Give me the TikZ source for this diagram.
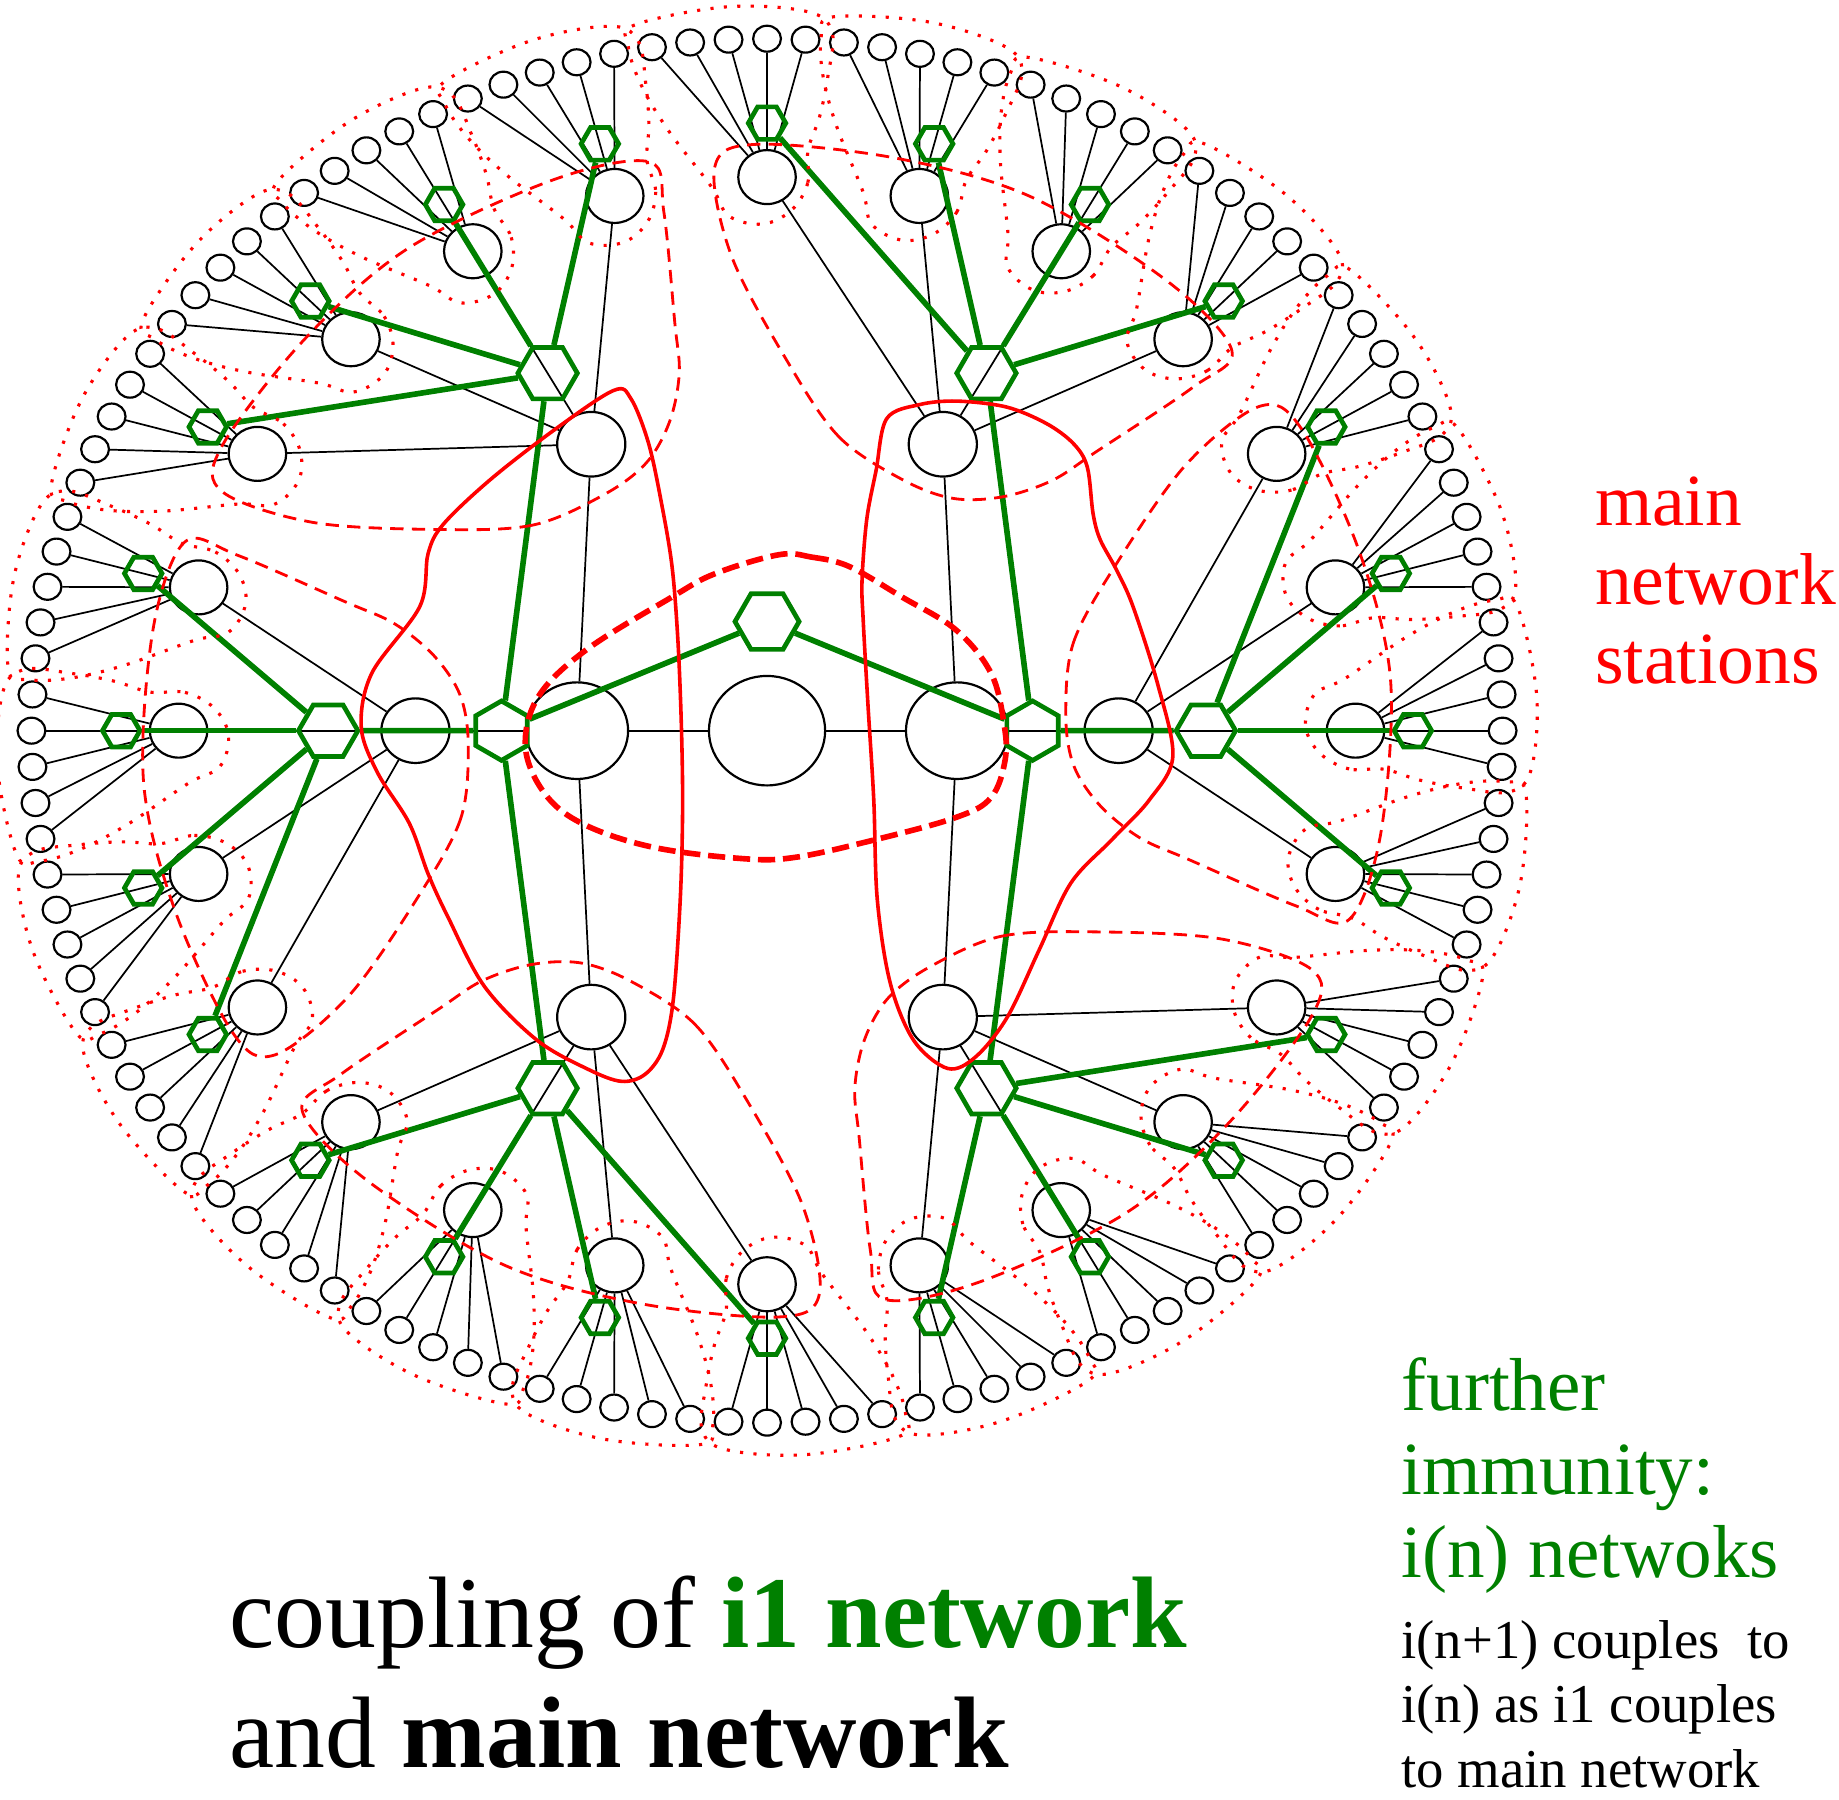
\documentclass[tikz,border=0pt]{standalone}
\usepackage{fontspec}
\setmainfont{Liberation Serif}
\usetikzlibrary{shapes.geometric}
\definecolor{inetgreen}{RGB}{0,128,0}

\tikzset{every picture/.style={line width=0.75pt}}
\tikzset{
  stn/.style={draw, ellipse, fill=white, line width=1.4pt, inner sep=0pt},
  leafstn/.style={stn, minimum width=17.8pt, minimum height=16.6pt},
  substn/.style={stn, minimum width=36.8pt, minimum height=34.5pt},
  hubstn/.style={stn, minimum width=43.6pt, minimum height=41.3pt},
  topstn/.style={stn, minimum width=65.3pt, minimum height=61.8pt},
  censtn/.style={stn, minimum width=74.3pt, minimum height=70pt},
  link/.style={line width=1.1pt},
  ihex/.style={draw=inetgreen, regular polygon, regular polygon sides=6, line width=3pt, inner sep=0pt},
  ihexroot/.style={ihex, minimum size=41pt},
  ihexbig/.style={ihex, minimum size=38pt},
  ihexsmall/.style={ihex, minimum size=24pt},
  ilink/.style={draw=inetgreen, line width=3.6pt},
  petal/.style={draw=red, line width=2pt, dash pattern={on 2pt off 6.6pt}},
  grpline/.style={draw=red, line width=1.8pt, dash pattern={on 8.5pt off 5.3pt}},
  sideline/.style={draw=red, line width=2.3pt},
  coreline/.style={draw=red, line width=3.6pt, dash pattern={on 11pt off 5pt}}
}

\begin{document}
\begin{tikzpicture}[x=0.75pt,y=0.75pt,yscale=-1,xscale=1]
\useasboundingbox (0,0) rectangle (1568,1534);

\begin{scope}[shift={(654,623)},xscale=1.063,yscale=-1]
%Shape: Ellipse - main network stations
\node[censtn] (cen) at (0,0) {};
\node[topstn] (stL) at (180:152.4) {};
\node[topstn] (stR) at (0:152.4) {};
\foreach \k in {0,...,5}
  \node[hubstn] (hub\k) at (\k*60:282) {};
\foreach \j in {0,...,23}
  \node[substn] (sub\j) at (\j*15:472) {};
\foreach \i in {0,...,119}
  \node[leafstn] (lf\i) at (\i*3:590) {};

%Straight Lines - main network
\draw[link] (stL) -- (cen);
\draw[link] (cen) -- (stR);
\foreach \k in {2,3,4}
  \draw[link] (stL) -- (hub\k);
\foreach \k in {0,1,5}
  \draw[link] (stR) -- (hub\k);
\foreach \j [evaluate={\j as \k using int(mod(floor((\j+1)/4),6))}] in {0,...,23}
  \draw[link] (hub\k) -- (sub\j);
\foreach \i [evaluate={\i as \j using int(mod(floor((\i+1)/5),24))}] in {0,...,119}
  \draw[link] (sub\j) -- (lf\i);

%Shape: Hexagon - i1 network
\node[ihexroot] (iroot) at (90:93) {};
\node[ihexbig, rotate=30] (igL) at (180:213) {};
\node[ihexbig, rotate=30] (igR) at (0:213) {};
\foreach \k in {0,...,5}
  \node[ihexbig] (ihub\k) at (\k*60:352) {};
\foreach \j in {0,...,23}
  \node[ihexsmall] (isub\j) at (\j*15:518) {};

%Straight Lines - i1 network
\draw[ilink] (iroot) -- (igL);
\draw[ilink] (iroot) -- (igR);
\foreach \k in {2,3,4}
  \draw[ilink] (igL) -- (ihub\k);
\foreach \k in {0,1,5}
  \draw[ilink] (igR) -- (ihub\k);
\foreach \j [evaluate={\j as \k using int(mod(floor((\j+1)/4),6))}] in {0,...,23}
  \draw[ilink] (ihub\k) -- (isub\j);

%Curve Lines - dotted groups
\foreach \t in {0,15,...,345}
  \draw[petal] plot[smooth cycle, tension=0.6] coordinates {(\t-3.8:496) (\t-4:468) (\t-2.5:444) (\t+0.5:432) (\t+4:440) (\t+5.5:466) (\t+8.8:518) (\t+10.4:560) (\t+10.8:594) (\t+10:611) (\t+3:618) (\t-3:614) (\t-5:598) (\t-5:560) (\t-4.6:525)};

%Curve Lines - dashed groups
\foreach \a in {0,60,...,300}
  \draw[grpline] plot[smooth cycle, tension=0.55] coordinates {(\a+3:240) (\a+17:257) (\a+27:315) (\a+34:405) (\a+35:482) (\a+31:500) (\a+18:499) (\a+5:502) (\a-10:500) (\a-19:494) (\a-19.4:450) (\a-18:356) (\a-17:313) (\a-13.5:275) (\a-7:248)};
\end{scope}

%Curve Lines - left side
\draw[sideline] plot[smooth cycle, tension=0.55] coordinates {(523,333) (538,340) (553,378) (564,429) (573,483) (578,546) (581,620) (582,690) (580,767) (574,853) (565,895) (550,916) (530,922) (502,912) (458,887) (413,841) (382,782) (365,745) (349,702) (322,659) (308,620) (317,574) (358,517) (365,472) (378,447) (418,409) (472,367)};
%Curve Lines - right side
\draw[sideline] plot[smooth cycle, tension=0.55] coordinates {(756,357) (784,345) (816,342) (858,347) (892,361) (915,378) (927,398) (932,438) (938,460) (952,486) (966,517) (987,583) (1000,645) (980,682) (948,716) (913,753) (886,810) (859,867) (832,901) (808,911) (779,887) (759,838) (748,767) (745,682) (740,600) (736,529) (735,495) (739,443) (747,401)};
%Curve Lines - core
\draw[coreline] plot[smooth cycle, tension=0.6] coordinates {(664,473) (692,475) (724,483) (769,509) (815,537) (845,574) (856,617) (857,648) (845,680) (815,697) (746,716) (678,731) (632,732) (555,722) (496,702) (464,676) (448,637) (459,594) (500,554) (573,509) (610,489)};

% Text Node
\node[anchor=base west, align=left, text=red, font=\fontsize{47}{50.6}\selectfont] (lblmain) at (1355,583) {main\\network\\stations};
% Text Node
\node[anchor=base west, align=left, text=inetgreen, font=\fontsize{48}{53.25}\selectfont] (lblfurther) at (1190,1345) {further\\immunity:\\i(n) netwoks};
% Text Node
\node[anchor=base west, align=left, font=\fontsize{35}{41.25}\selectfont] (lblcouples) at (1190,1524) {i(n+1) couples\ \ to\\i(n) as i1 couples\\to main network};
% Text Node
\node[anchor=base west, align=left, font=\fontsize{65}{76.5}\selectfont] (lblcoupling) at (191,1507) {coupling of \textcolor{inetgreen}{\textbf{i1 network}}\\and \textbf{main network}};

\end{tikzpicture}
\end{document}
